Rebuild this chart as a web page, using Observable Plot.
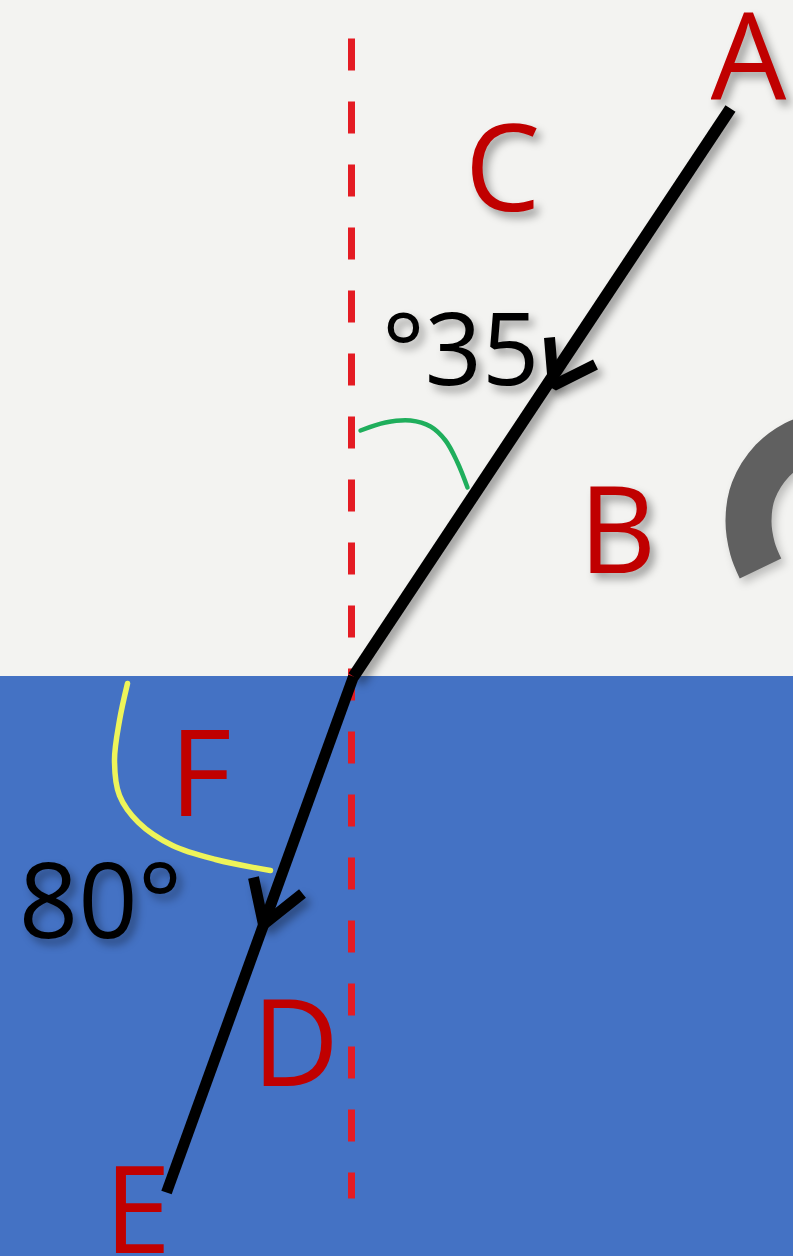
<!DOCTYPE html>
<html><head><meta charset="utf-8">
<script src="https://cdn.jsdelivr.net/npm/d3@7"></script>
<script src="https://cdn.jsdelivr.net/npm/@observablehq/plot@0.6"></script>
<style>
html,body{margin:0;padding:0;background:#f3f3f1;overflow:hidden}
#chart svg{display:block}
.shadowed{filter:drop-shadow(5px 6px 4px rgba(0,0,0,0.35));}
.soft-shadow{filter:drop-shadow(4px 5px 4px rgba(0,0,0,0.22));}
</style></head><body><div id="chart"></div>
<script>
// Diagram coordinates (x to the right, y downward)
const media = [{name:"air", y1:0, y2:676}, {name:"water", y1:676, y2:1256}];
const normalLine = [{x:351, y:38}, {x:351, y:1198}];
const incidentRay = [{x:730, y:108}, {x:353, y:676}];
const refractedRay = [{x:353, y:676}, {x:166, y:1192}];
const arrowHeads = [
  {id:1, x:549, y:337}, {id:1, x:553, y:385}, {id:1, x:595, y:364},
  {id:2, x:253, y:877}, {id:2, x:263, y:924}, {id:2, x:302, y:893}
];
const incidenceArc = [{x:360,y:430},{x:385,y:422},{x:410,y:420},{x:430,y:426},{x:445,y:440},{x:457,y:462},{x:467,y:487}];
const refractionArc = [{x:127,y:683},{x:119,y:720},{x:114,y:760},{x:119,y:795},{x:138,y:822},{x:172,y:845},{x:215,y:859},{x:270,y:870}];
const grayArc = [{x:815,y:436},{x:795,y:443},{x:772,y:460},{x:753,y:490},{x:748,y:520},{x:752,y:548},{x:760,y:568}];
const airLabels = [{t:"A", x:748, y:98}, {t:"C", x:502, y:210}, {t:"B", x:617, y:572}];
const waterLabels = [{t:"F", x:200, y:815}, {t:"D", x:295, y:1085}, {t:"E", x:137, y:1252}];
const angleLabels = [{t:"°35", x:460, y:384, size:100}, {t:"80°", x:100, y:937, size:104}];

const marks = [
  Plot.rect(media, {y1: "y1", y2: "y2", fill: "name"}),
  Plot.line(grayArc, {x: "x", y: "y", stroke: "#606060", strokeWidth: 46, curve: "catmull-rom", strokeLinecap: "butt"}),
  Plot.line(normalLine, {x: "x", y: "y", stroke: "#e41b23", strokeWidth: 7, strokeDasharray: "32 31", strokeLinecap: "butt"}),
  Plot.line(incidenceArc, {x: "x", y: "y", stroke: "#1fae5c", strokeWidth: 4.5, curve: "catmull-rom"}),
  Plot.line(refractionArc, {x: "x", y: "y", stroke: "#eef45a", strokeWidth: 5.5, curve: "catmull-rom"}),
  Plot.line(incidentRay, {x: "x", y: "y", stroke: "#000", strokeWidth: 12, strokeLinecap: "butt"}),
  Plot.line(refractedRay, {x: "x", y: "y", stroke: "#000", strokeWidth: 11, strokeLinecap: "butt"}),
  Plot.line(arrowHeads, {x: "x", y: "y", z: "id", stroke: "#000", strokeWidth: 11, strokeLinejoin: "miter", strokeLinecap: "butt"}),
  Plot.text(airLabels, {x: "x", y: "y", text: "t", fill: "#c00000", fontSize: 120, fontFamily: "Open Sans", textAnchor: "middle", lineAnchor: "bottom"}),
  Plot.text(waterLabels, {x: "x", y: "y", text: "t", fill: "#c00000", fontSize: 120, fontFamily: "Open Sans", textAnchor: "middle", lineAnchor: "bottom"}),
  Plot.text(angleLabels, {x: "x", y: "y", text: "t", fill: "#000", fontSize: d => d.size, fontFamily: "Open Sans", textAnchor: "middle", lineAnchor: "bottom"})
];
const shadowClass = {1: "soft-shadow", 5: "shadowed", 7: "shadowed", 8: "shadowed", 10: "shadowed"};

const plot = Plot.plot({
  width: 793, height: 1256, margin: 0,
  x: {domain: [0, 793], axis: null},
  y: {domain: [0, 1256], range: [0, 1256], axis: null},
  color: {domain: ["air", "water"], range: ["#f3f3f1", "#4472c4"]},
  style: {background: "transparent", overflow: "hidden"},
  marks
});
const groups = plot.querySelectorAll(":scope > g");
groups.forEach((g, i) => { if (shadowClass[i]) g.classList.add(shadowClass[i]); });
document.getElementById("chart").appendChild(plot);
</script></body></html>
